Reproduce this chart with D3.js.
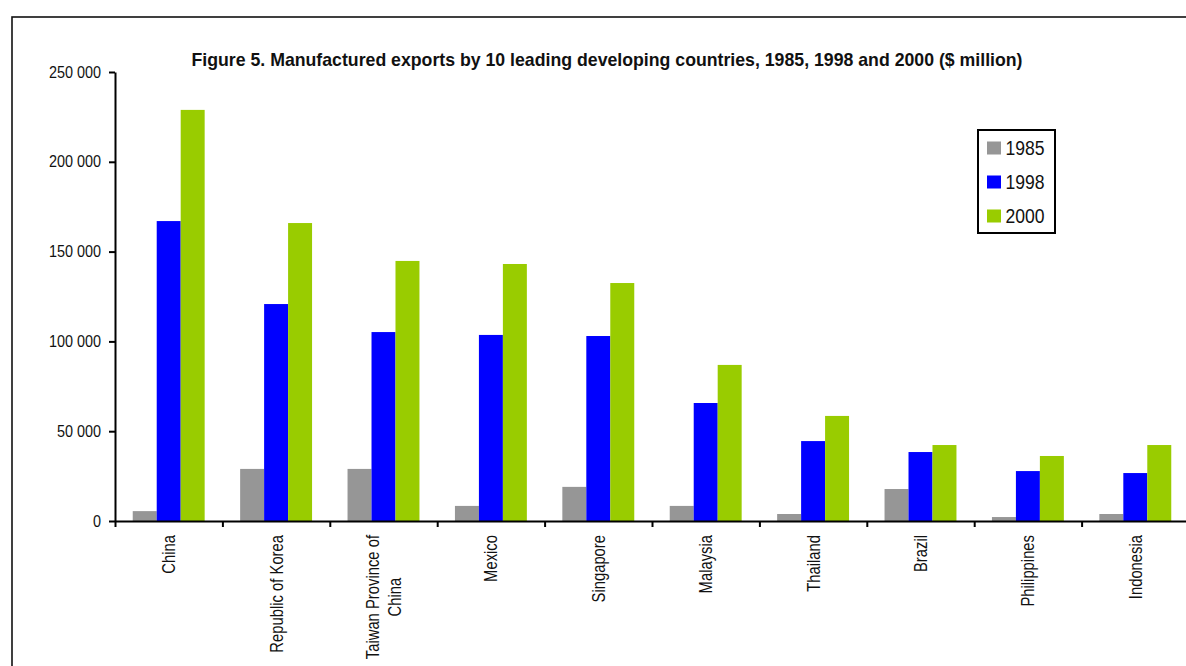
<!DOCTYPE html>
<html>
<head>
<meta charset="utf-8">
<script src="https://cdn.jsdelivr.net/npm/d3@7"></script>
<style>
  html, body { margin: 0; padding: 0; background: #fff; }
  svg { display: block; font-family: "Liberation Sans Narrow", "Arial Narrow", "Liberation Sans", Arial, sans-serif; }
</style>
</head>
<body>
<svg id="chart" width="1186" height="666"></svg>
<script>
// Manufactured exports, $ million
const countries = ["China", "Republic of Korea", "Taiwan Province of China", "Mexico", "Singapore",
                   "Malaysia", "Thailand", "Brazil", "Philippines", "Indonesia"];
const countryLabels = [["China"], ["Republic of Korea"], ["Taiwan Province of", "China"], ["Mexico"], ["Singapore"],
                       ["Malaysia"], ["Thailand"], ["Brazil"], ["Philippines"], ["Indonesia"]];
const years = ["1985", "1998", "2000"];
const exports1985 = [5500, 29000, 29000, 8400, 19000, 8400, 3900, 17800, 2200, 3900];
const exports1998 = [167000, 120800, 105200, 103600, 103000, 65700, 44500, 38400, 27800, 26700];
const exports2000 = [228900, 165900, 144800, 143100, 132500, 86900, 58500, 42300, 36200, 42300];
const yTicks = [0, 50000, 100000, 150000, 200000, 250000];
const titleText = "Figure 5. Manufactured exports by 10 leading developing countries, 1985, 1998 and 2000 ($ million)";

const seriesValues = [exports1985, exports1998, exports2000];
const colors = ["#969696", "#0000ff", "#99cc00"];

// condense a text element horizontally (narrow face look); returns the new length
function squeeze(sel, factor) {
  const w = sel.node().getComputedTextLength() * factor;
  sel.attr("textLength", w).attr("lengthAdjust", "spacingAndGlyphs");
  return w;
}

const svg = d3.select("#chart");

// outer frame
svg.append("rect")
  .attr("x", 12).attr("y", 17)
  .attr("width", 1300).attr("height", 800)
  .attr("fill", "none").attr("stroke", "#111").attr("stroke-width", 1.6);

const plotLeft = 115, step = 107.4, plotBottom = 521, plotTop = 72;
const x0 = d3.scaleBand().domain(countries).range([plotLeft, plotLeft + step * countries.length]).padding(0);
const x1 = d3.scaleBand().domain(years).range([0, x0.bandwidth()]).paddingInner(0).paddingOuter(0.74);
const y = d3.scaleLinear().domain([0, 250000]).range([plotBottom, plotTop]);
const xEdges = d3.scaleLinear().domain([0, countries.length]).range(x0.range());

// bars
const groups = svg.append("g").selectAll("g")
  .data(countries)
  .join("g")
  .attr("transform", d => `translate(${x0(d)},0)`);

groups.selectAll("rect")
  .data((d, i) => years.map((yr, s) => ({ yr, s, v: seriesValues[s][i] })))
  .join("rect")
  .attr("x", d => x1(d.yr))
  .attr("width", x1.bandwidth())
  .attr("y", d => y(d.v))
  .attr("height", d => y(0) - y(d.v))
  .attr("fill", d => colors[d.s]);

// y axis
const fmt = v => d3.format(",")(v).replace(/,/g, " ");
const yAxis = svg.append("g")
  .attr("transform", `translate(${plotLeft},0)`)
  .call(d3.axisLeft(y).tickValues(yTicks).tickFormat(fmt).tickSize(6).tickSizeOuter(0).tickPadding(8));
yAxis.select(".domain").attr("stroke", "#000").attr("stroke-width", 2);
yAxis.selectAll(".tick line").attr("stroke", "#000").attr("stroke-width", 2);
yAxis.selectAll(".tick text").attr("fill", "#111").style("font-size", "16px")
  .each(function () { squeeze(d3.select(this), 0.9); });

// x axis: ticks on the category boundaries
const xAxis = svg.append("g")
  .attr("transform", `translate(0,${plotBottom})`)
  .call(d3.axisBottom(xEdges).ticks(countries.length).tickFormat("").tickSize(6).tickSizeOuter(0));
xAxis.select(".domain").attr("stroke", "#000").attr("stroke-width", 2);
xAxis.selectAll(".tick line").attr("stroke", "#000").attr("stroke-width", 2);

// rotated category labels, wrapped lines centred on each other
const lineGap = 22;
const labelG = svg.append("g");
countryLabels.forEach((lines, i) => {
  const cx = x0(countries[i]) + x0.bandwidth() / 2;
  const g = labelG.append("g").attr("transform", `translate(${cx},${plotBottom + 14}) rotate(-90)`);
  const lens = [];
  const texts = lines.map((ln, k) => {
    const t = g.append("text")
      .text(ln)
      .attr("fill", "#111")
      .style("font-size", "18.5px")
      .attr("dy", ((k - (lines.length - 1) / 2) * lineGap + 6.5) + "px");
    lens.push(squeeze(t, 0.8));
    return t;
  });
  const maxLen = d3.max(lens);
  texts.forEach(t => t.attr("text-anchor", "middle").attr("x", -maxLen / 2));
});

// title
svg.append("text")
  .attr("x", 607).attr("y", 66)
  .attr("text-anchor", "middle")
  .attr("fill", "#111")
  .style("font-size", "19px").style("font-weight", "bold")
  .text(titleText)
  .attr("textLength", 831).attr("lengthAdjust", "spacingAndGlyphs");

// legend
const legend = svg.append("g").attr("transform", "translate(978,130)");
legend.append("rect")
  .attr("width", 77).attr("height", 103)
  .attr("fill", "#fff").attr("stroke", "#000").attr("stroke-width", 2);
years.forEach((yr, s) => {
  const cy = 18 + s * 34;
  legend.append("rect")
    .attr("x", 9).attr("y", cy - 6.5)
    .attr("width", 14).attr("height", 13)
    .attr("fill", colors[s]);
  const t = legend.append("text")
    .attr("x", 27.5).attr("y", cy).attr("dy", "0.35em")
    .attr("fill", "#111")
    .style("font-size", "19.5px")
    .text(yr);
  squeeze(t, 0.9);
});
</script>
</body>
</html>
